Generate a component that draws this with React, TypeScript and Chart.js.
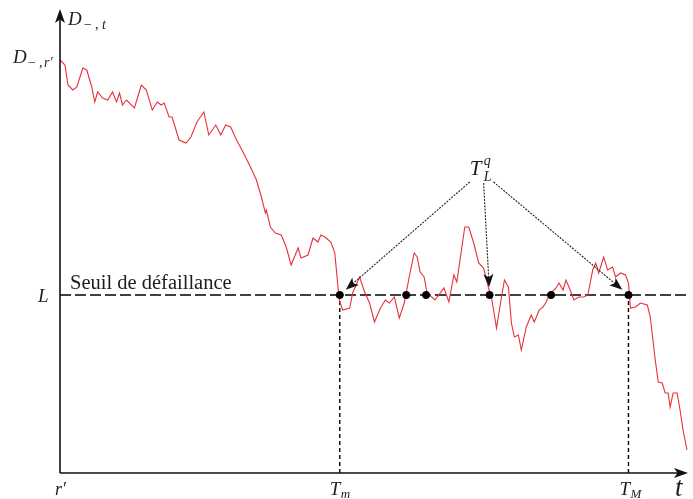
import React, { useEffect, useRef } from "react";
import { Chart, registerables } from "chart.js";

Chart.register(...registerables);

// Red path of D_{-,t} over time (time offset, value)
const pathT = [0, 5, 8, 13, 17, 23, 27, 32, 35, 38, 43, 48, 53, 57, 60, 63, 67, 75, 82, 87, 93, 98, 102, 105, 110, 113, 120, 127, 132, 138, 145, 150, 157, 162, 167, 172, 178, 185, 192, 198, 203, 207, 208, 212, 217, 223, 228, 233, 240, 243, 250, 255, 260, 263, 267, 273, 277, 280, 282, 285, 292, 295, 302, 307, 312, 317, 323, 328, 332, 337, 342, 347, 352, 357, 360, 363, 367, 370, 378, 387, 392, 397, 400, 408, 412, 417, 422, 427, 432, 435, 440, 445, 448, 452, 455, 458, 462, 465, 470, 475, 478, 483, 487, 490, 493, 500, 503, 507, 510, 513, 518, 523, 528, 532, 537, 540, 543, 548, 552, 557, 560, 565, 570, 573, 575, 580, 585, 592, 595, 600, 603, 607, 610, 613, 615, 618, 622, 625, 628, 632];
const pathD = [413, 408, 388, 383, 386, 405, 403, 386, 371, 381, 375, 373, 381, 371, 380, 368, 373, 365, 388, 383, 363, 371, 368, 370, 356, 356, 333, 330, 336, 351, 361, 338, 348, 338, 348, 346, 333, 320, 306, 293, 276, 260, 263, 246, 240, 238, 226, 208, 225, 215, 218, 235, 231, 238, 236, 231, 220, 188, 171, 163, 165, 180, 196, 181, 170, 151, 165, 173, 170, 176, 155, 170, 196, 220, 216, 201, 196, 180, 173, 185, 171, 198, 191, 246, 246, 230, 210, 205, 185, 175, 145, 176, 193, 186, 150, 136, 138, 123, 146, 158, 151, 163, 166, 171, 178, 185, 190, 183, 193, 186, 173, 176, 176, 178, 203, 210, 200, 216, 203, 206, 196, 200, 198, 190, 165, 166, 170, 168, 156, 113, 91, 90, 80, 80, 66, 80, 80, 63, 43, 23];

const X_MAX = 633;
const Y_MAX = 463;
const L_LEVEL = 178;
const T_MIN = 282;
const T_MAX = 573;
const crossTimes = [282, 349, 369, 433, 495, 573];
const arrowTargetIdx = [0, 3, 5];
const arrowStartT = [413, 427, 437];
const arrowStartD = [291, 290, 291];
const labelTLqT = 413;
const labelTLqD = 298;

const RED = "rgb(232,48,58)";
const INK = "#111";
const MATH = '"Liberation Serif", "DejaVu Serif", serif';

function italic(size: number) {
  return `italic ${size}px ${MATH}`;
}
function upright(size: number) {
  return `${size}px ${MATH}`;
}

function drawArrowHead(ctx: CanvasRenderingContext2D, x: number, y: number, ang: number, len: number, hw: number) {
  ctx.save();
  ctx.translate(x, y);
  ctx.rotate(ang);
  ctx.beginPath();
  ctx.moveTo(0, 0);
  ctx.lineTo(-len, -hw);
  ctx.lineTo(-len * 0.75, 0);
  ctx.lineTo(-len, hw);
  ctx.closePath();
  ctx.fill();
  ctx.restore();
}

const overlayPlugin = {
  id: "overlay",
  afterDatasetsDraw(chart: any) {
    const ctx: CanvasRenderingContext2D = chart.ctx;
    const xs = chart.scales.x;
    const ys = chart.scales.y;
    const px = (v: number) => xs.getPixelForValue(v);
    const py = (v: number) => ys.getPixelForValue(v);
    const x0 = px(0);
    const y0 = py(0);
    const xEnd = px(X_MAX);
    const yTop = py(Y_MAX);

    ctx.save();
    ctx.fillStyle = INK;
    ctx.strokeStyle = INK;
    ctx.setLineDash([]);
    ctx.lineWidth = 1.6;
    // y axis
    ctx.beginPath();
    ctx.moveTo(x0, y0);
    ctx.lineTo(x0, yTop + 8);
    ctx.stroke();
    drawArrowHead(ctx, x0, yTop - 1, -Math.PI / 2, 14, 5);
    // x axis
    ctx.beginPath();
    ctx.moveTo(x0, y0);
    ctx.lineTo(xEnd - 8, y0);
    ctx.stroke();
    drawArrowHead(ctx, xEnd, y0, 0, 14, 5);

    // arrows from T_L^q
    arrowTargetIdx.forEach((idx, i) => {
      const sx = px(arrowStartT[i]);
      const sy = py(arrowStartD[i]);
      const dx = px(crossTimes[idx]);
      const dy = py(L_LEVEL);
      const ang = Math.atan2(dy - sy, dx - sx);
      const tx = dx - Math.cos(ang) * 8;
      const ty = dy - Math.sin(ang) * 8;
      ctx.strokeStyle = "#222";
      ctx.lineWidth = 1.1;
      ctx.setLineDash([2, 1.2]);
      ctx.beginPath();
      ctx.moveTo(sx, sy);
      ctx.lineTo(tx - Math.cos(ang) * 8, ty - Math.sin(ang) * 8);
      ctx.stroke();
      ctx.setLineDash([]);
      ctx.fillStyle = INK;
      drawArrowHead(ctx, tx, ty, ang, 13, 5);
    });

    ctx.fillStyle = "#1e1e1e";
    ctx.textBaseline = "alphabetic";
    ctx.textAlign = "left";

    // T_L^q label
    const lx = px(labelTLqT);
    const ly = py(labelTLqD);
    ctx.font = italic(21);
    ctx.fillText("T", lx, ly);
    ctx.font = italic(14);
    ctx.fillText("q", lx + 14, ly - 10);
    ctx.fillText("L", lx + 14, ly + 6);

    // D_{-,t} axis title
    ctx.font = italic(19);
    ctx.fillText("D", x0 + 8, yTop + 15);
    ctx.font = upright(14);
    ctx.fillText("\u2212", x0 + 24, yTop + 19);
    ctx.fillText(",", x0 + 35, yTop + 19);
    ctx.font = italic(14);
    ctx.fillText("t", x0 + 42, yTop + 19);

    // D_{-,r'} start value label
    const dStartY = py(pathD[0]);
    ctx.font = italic(19);
    ctx.fillText("D", x0 - 47, dStartY + 3);
    ctx.font = upright(14);
    ctx.fillText("\u2212", x0 - 32, dStartY + 7);
    ctx.fillText(",", x0 - 21, dStartY + 7);
    ctx.font = italic(14);
    ctx.fillText("r\u2032", x0 - 16, dStartY + 7);

    // L label
    const lY = py(L_LEVEL);
    ctx.font = italic(19);
    ctx.fillText("L", x0 - 22, lY + 7);

    // Seuil de défaillance
    ctx.font = upright(20.5);
    ctx.fillText("Seuil de d\u00e9faillance", x0 + 10, lY - 6);

    // x tick labels
    ctx.font = italic(18);
    ctx.fillText("r\u2032", x0 - 5, y0 + 22);
    const tmx = px(T_MIN);
    ctx.font = italic(19);
    ctx.fillText("T", tmx - 10, y0 + 22);
    ctx.font = italic(13);
    ctx.fillText("m", tmx + 1, y0 + 25);
    const tMx = px(T_MAX);
    ctx.font = italic(19);
    ctx.fillText("T", tMx - 9, y0 + 22);
    ctx.font = italic(13);
    ctx.fillText("M", tMx + 2, y0 + 25);
    ctx.font = italic(27);
    ctx.fillText("t", xEnd - 13, y0 + 23);

    ctx.restore();
  },
};

export default function App() {
  const ref = useRef<HTMLCanvasElement | null>(null);

  useEffect(() => {
    if (!ref.current) return;
    const pathData = pathT.map((t, i) => ({ x: t, y: pathD[i] }));
    const chart = new Chart(ref.current, {
      type: "line",
      data: {
        datasets: [
          {
            label: "crossings",
            data: crossTimes.map((t) => ({ x: t, y: L_LEVEL })),
            showLine: false,
            pointRadius: 3.6,
            pointBackgroundColor: "#000",
            pointBorderColor: "#000",
            order: 0,
          },
          {
            label: "D",
            data: pathData,
            borderColor: RED,
            borderWidth: 1.1,
            pointRadius: 0,
            tension: 0,
            order: 1,
          },
          {
            label: "L",
            data: [
              { x: 0, y: L_LEVEL },
              { x: X_MAX, y: L_LEVEL },
            ],
            borderColor: "#000",
            borderWidth: 1.4,
            borderDash: [11, 4],
            pointRadius: 0,
            order: 2,
          },
          {
            label: "Tm",
            data: [
              { x: T_MIN, y: 0 },
              { x: T_MIN, y: L_LEVEL },
            ],
            borderColor: "#000",
            borderWidth: 1.4,
            borderDash: [4, 3],
            pointRadius: 0,
            order: 3,
          },
          {
            label: "TM",
            data: [
              { x: T_MAX, y: 0 },
              { x: T_MAX, y: L_LEVEL },
            ],
            borderColor: "#000",
            borderWidth: 1.4,
            borderDash: [4, 3],
            pointRadius: 0,
            order: 4,
          },
        ],
      },
      options: {
        responsive: false,
        animation: false,
        devicePixelRatio: 1,
        layout: { padding: { left: 60, right: 0, top: 10, bottom: 26 } },
        scales: {
          x: { type: "linear", min: 0, max: X_MAX, display: false },
          y: { type: "linear", min: 0, max: Y_MAX, display: false },
        },
        plugins: {
          legend: { display: false },
          tooltip: { enabled: false },
        },
      },
      plugins: [overlayPlugin],
    });
    return () => chart.destroy();
  }, []);

  return (
    <div style={{ position: "fixed", left: 0, top: 0, width: 693, height: 499, background: "#fff" }}>
      <canvas ref={ref} width={693} height={499} style={{ width: 693, height: 499 }} />
    </div>
  );
}
